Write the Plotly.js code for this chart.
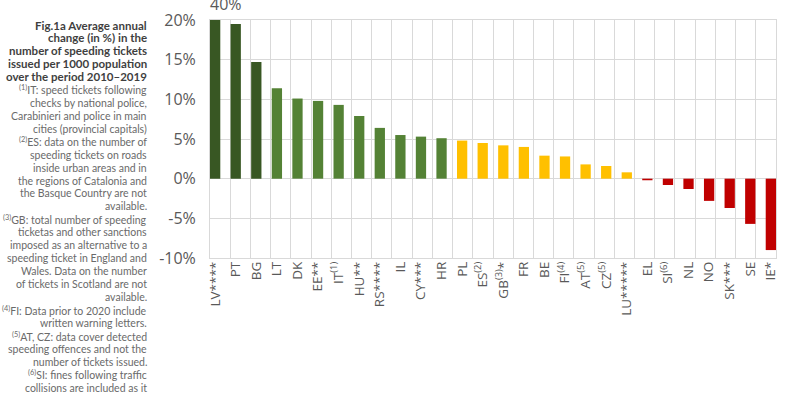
<!DOCTYPE html>
<html><head><meta charset="utf-8">
<script src="https://cdn.plot.ly/plotly-3.0.1.min.js"></script>
<style>html,body{margin:0;padding:0;background:#fff;overflow:hidden;}#chart{width:800px;height:397px;}</style>
</head><body><div id="chart"></div>
<script>
// ---- data ----
const codes = ["LV","PT","BG","LT","DK","EE","IT","HU","RS","IL","CY","HR","PL","ES","GB","FR","BE","FI","AT","CZ","LU","EL","SI","NL","NO","SK","SE","IE"];
const tickLabels = ["LV****","PT","BG","LT","DK","EE**","IT<sup>(1)</sup>","HU**","RS****","IL","CY***","HR","PL","ES<sup>(2)</sup>","GB<sup>(3)</sup>*","FR","BE","FI<sup>(4)</sup>","AT<sup>(5)</sup>","CZ<sup>(5)</sup>","LU*****","EL","SI<sup>(6)</sup>","NL","NO","SK***","SE","IE*"];
const changePct = [40,19.5,14.7,11.4,10.1,9.8,9.3,7.9,6.4,5.5,5.3,5.1,4.8,4.5,4.2,4.0,2.9,2.8,1.8,1.6,0.8,-0.2,-0.8,-1.3,-2.8,-3.7,-5.7,-9.0];
const groups = ["dark","dark","dark","mid","mid","mid","mid","mid","mid","mid","mid","mid","yel","yel","yel","yel","yel","yel","yel","yel","yel","red","red","red","red","red","red","red"];
const yTickVals = [-10,-5,0,5,10,15,20];
const yTickText = ["-10%","-5%","0%","5%","10%","15%","20%"];
const offscaleLabel = "40%";
const titleLines = ["Fig.1a Average annual","change (in %) in the","number of speeding tickets","issued per 1000 population","over the period 2010–2019"];
const noteLines = [
 "<sup>(1)</sup>IT: speed tickets following","checks by national police,","Carabinieri and police in main","cities (provincial capitals)",
 "<sup>(2)</sup>ES: data on the number of","speeding tickets on roads","inside urban areas and in","the regions of Catalonia and","the Basque Country are not","available.",
 "<sup>(3)</sup>GB: total number of speeding","ticketas and other sanctions","imposed as an alternative to a","speeding ticket in England and","Wales. Data on the number","of tickets in Scotland are not","available.",
 "<sup>(4)</sup>FI: Data prior to 2020 include","written warning letters.",
 "<sup>(5)</sup>AT, CZ: data cover detected","speeding offences and not the","number of tickets issued.",
 "<sup>(6)</sup>SI: fines following traffic","collisions are included as it"
];
// ---- styles ----
const colorMap = {dark:"#385723", mid:"#548235", yel:"#FFC000", red:"#C00000"};
const grid = "#d9d9d9", txt = "#595959", FONT = "Open Sans, Noto Sans, sans-serif", SIDE = "Lato, Open Sans, sans-serif";
const W = 800, H = 397, L = 210, R = 24, T = 20, B = 139;
const plotH = H - T - B, plotW = W - L - R;
const px2py = p => (H - B - p) / plotH;
const px2px = p => (p - L) / plotW;

const annotations = [];
const lines = titleLines.map(t => ({t, bold:true})).concat(noteLines.map(t => ({t, bold:false})));
lines.forEach((ln, i) => {
  annotations.push({
    xref:"paper", yref:"paper", x:px2px(149), y:px2py(25 + 12.96*i),
    xanchor:"right", yanchor:"middle", showarrow:false, align:"right",
    text: ln.bold ? "<b>"+ln.t+"</b>" : ln.t,
    font:{family:SIDE, size: ln.bold ? 11.5 : 10.5, color: ln.bold ? "#3f3f3f" : "#6a6a6a"}
  });
});
annotations.push({xref:"paper", yref:"paper", x:0, y:1, xanchor:"left", yanchor:"bottom",
  xshift:-2, yshift:3, showarrow:false, text:offscaleLabel, font:{family:FONT, size:16, color:txt}});

const data = [
  {type:"scatter", x:[0], y:[0], mode:"markers", marker:{opacity:0}, xaxis:"x", yaxis:"y", showlegend:false, hoverinfo:"skip"},
  {type:"bar", x:codes, y:changePct, xaxis:"x2", yaxis:"y",
   marker:{color:groups.map(g => colorMap[g]), line:{width:0}}, width:0.5, showlegend:false}
];
const layout = {
  width:W, height:H, margin:{l:L, r:R, t:T, b:B}, paper_bgcolor:"#fff", plot_bgcolor:"#fff",
  showlegend:false, font:{family:FONT, color:txt},
  xaxis:{type:"linear", range:[0,28], dtick:1, tick0:0, showgrid:true, gridcolor:grid, gridwidth:1,
    showticklabels:false, ticks:"", zeroline:false, showline:true, mirror:true, linecolor:grid, automargin:false, fixedrange:true},
  xaxis2:{type:"category", overlaying:"x", anchor:"y", side:"bottom", range:[-0.25, 27.25],
    tickmode:"array", tickvals:codes, ticktext:tickLabels, tickangle:-90, showgrid:false, zeroline:false,
    showline:false, ticks:"", tickfont:{family:FONT, size:13.5, color:txt}, automargin:false, fixedrange:true},
  yaxis:{range:[-10,20], tickmode:"array", tickvals:yTickVals, ticktext:yTickText, showgrid:true, gridcolor:grid, zeroline:true, zerolinecolor:grid,
    zerolinewidth:1, showline:true, mirror:true, linecolor:grid, ticks:"outside", ticklen:10, tickcolor:"rgba(0,0,0,0)",
    tickfont:{family:FONT, size:16, color:txt}, automargin:false, fixedrange:true},
  annotations
};
Plotly.newPlot("chart", data, layout, {displayModeBar:false, staticPlot:true});
</script></body></html>
